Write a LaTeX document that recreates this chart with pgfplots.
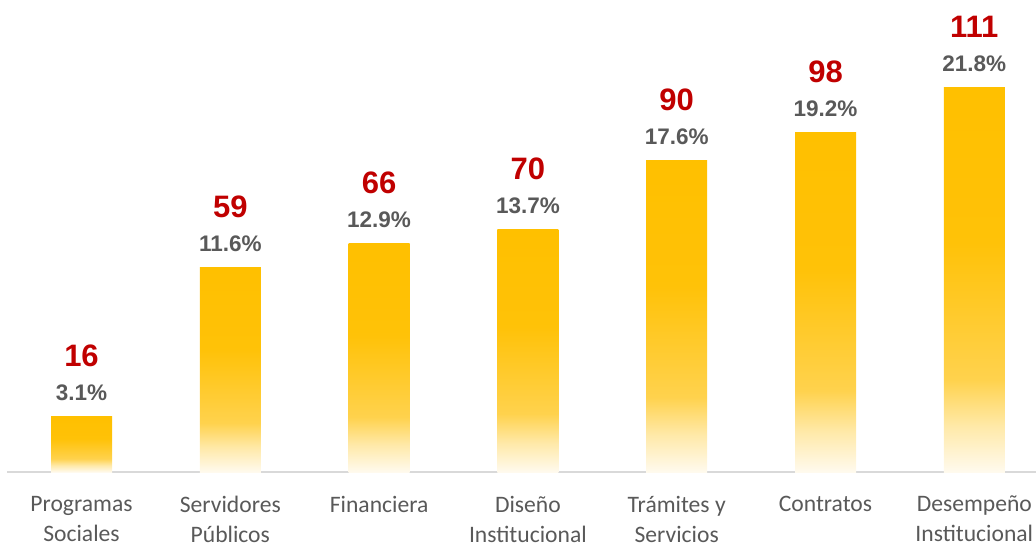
\documentclass[border=0pt]{standalone}
\usepackage{pgfplots}
\pgfplotsset{compat=1.18}
\usepackage{pgfplotstable}
\usepackage{fontspec}
\setmainfont{Carlito}
\newfontfamily\numfont{Liberation Sans}
\definecolor{gold}{HTML}{FFC000}
\definecolor{goldmid}{HTML}{FFD24D}
\definecolor{goldlight}{HTML}{FFE9A8}
\definecolor{cream}{HTML}{FFFAEE}
\definecolor{redlab}{HTML}{C00000}
\definecolor{graylab}{HTML}{595959}
\definecolor{axisgray}{HTML}{D9D9D9}
\pgfdeclareverticalshading{barfade}{100bp}{color(0bp)=(cream); color(25bp)=(cream); color(31bp)=(goldlight); color(37bp)=(goldmid); color(55bp)=(gold!90!goldmid); color(75bp)=(gold); color(100bp)=(gold)}
\pgfplotstableread{
x y pct
0 16 3.1\%
1 59 11.6\%
2 66 12.9\%
3 70 13.7\%
4 90 17.6\%
5 98 19.2\%
6 111 21.8\%
}\datatable
\pgfplotsset{
  goldbar/.style={ybar, bar width=61pt, draw=none, shading=barfade, forget plot},
}
\begin{document}
\begin{tikzpicture}
\begin{axis}[
  x=148.8pt, y=3.46pt,
  xmin=-0.5, xmax=6.42, ymin=0, ymax=115,
  clip=false,
  axis x line*=bottom,
  axis y line=none,
  x axis line style={axisgray, line width=1.6pt, -},
  xtick={0,...,6},
  major tick length=0pt,
  xticklabels={{Programas\\Sociales},{Servidores\\Públicos},{Financiera},{Diseño\\Institucional},{Trámites y\\Servicios},{Contratos},{Desempeño\\Institucional}},
  xticklabel style={align=center, anchor=north, inner sep=0pt, text=graylab,
    font=\fontsize{23.6}{30}\selectfont, yshift=-24pt},
]
\coordinate (O) at (axis cs:0,0);
\addplot[goldbar] coordinates {(0,16)};
\addplot[goldbar] coordinates {(1,59)};
\addplot[goldbar] coordinates {(2,66)};
\addplot[goldbar] coordinates {(3,70)};
\addplot[goldbar] coordinates {(4,90)};
\addplot[goldbar] coordinates {(5,98)};
\addplot[goldbar] coordinates {(6,111)};
\addplot[draw=none, mark=none, point meta=explicit symbolic,
  nodes near coords,
  every node near coord/.append style={anchor=center, yshift=61pt, text=redlab,
    font=\numfont\bfseries\fontsize{31}{31}\selectfont}]
  table[x=x, y=y, meta=y] {\datatable};
\addplot[draw=none, mark=none, point meta=explicit symbolic,
  nodes near coords,
  every node near coord/.append style={anchor=center, yshift=24pt, text=graylab,
    font=\numfont\bfseries\fontsize{22.5}{22.5}\selectfont}]
  table[x=x, y=y, meta=pct] {\datatable};
\end{axis}
\pgfresetboundingbox
\path[use as bounding box] (O) ++(-81.5pt,-72pt) rectangle ++(1036pt,544pt);
\end{tikzpicture}
\end{document}
